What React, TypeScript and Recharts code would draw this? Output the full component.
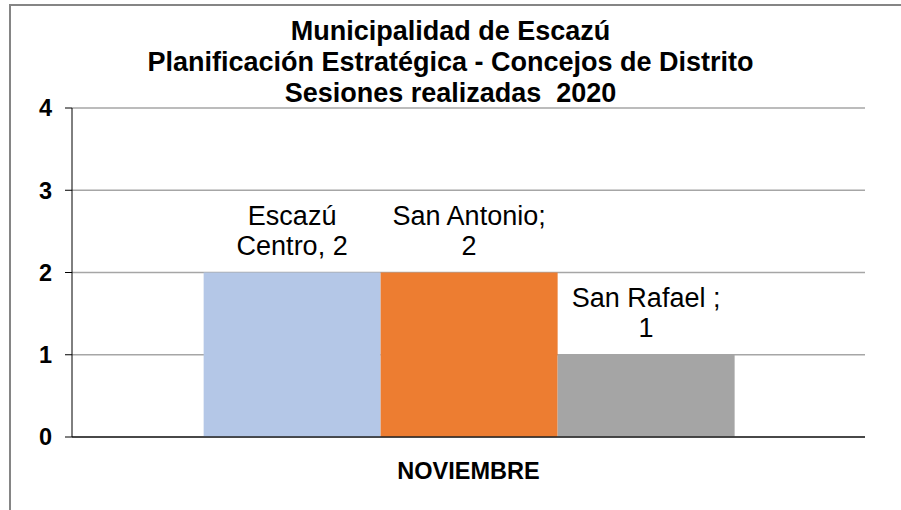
import React from "react";
import { BarChart, Bar, XAxis, YAxis, CartesianGrid, LabelList } from "recharts";

const categories = ["NOVIEMBRE"];
const escazuCentro = [2];
const sanAntonio = [2];
const sanRafael = [1];
const yTicks = [0, 1, 2, 3, 4];
const titleLines = [
  "Municipalidad de Escazú",
  "Planificación Estratégica - Concejos de Distrito",
  "Sesiones realizadas  2020",
];
const seriesInfo = [
  { key: "escazu", values: escazuCentro, color: "#B4C7E7" },
  { key: "antonio", values: sanAntonio, color: "#ED7D31" },
  { key: "rafael", values: sanRafael, color: "#A5A5A5" },
];
const labelLines: Record<string, (v: number) => string[]> = {
  escazu: (v) => ["Escazú", `Centro, ${v}`],
  antonio: (v) => ["San Antonio;", `${v}`],
  rafael: (v) => ["San Rafael ;", `${v}`],
};

const data = categories.map((c, i) => ({
  name: c,
  escazu: escazuCentro[i],
  antonio: sanAntonio[i],
  rafael: sanRafael[i],
}));

const FONT = "'Liberation Sans', Arial, sans-serif";

const makeLabel = (key: string) => (props: any) => {
  const { x, y, width, value } = props;
  const lines = labelLines[key](value);
  const cx = x + width / 2;
  return (
    <text x={cx} y={y - 18} textAnchor="middle" fontFamily={FONT} fontSize={27} fill="#000">
      <tspan x={cx} dy={-30}>{lines[0]}</tspan>
      <tspan x={cx} dy={30}>{lines[1]}</tspan>
    </text>
  );
};

export default function App() {
  return (
    <div style={{ position: "absolute", left: 0, top: 0, width: 901, height: 510, background: "#fff", overflow: "hidden" }}>
      <div style={{ position: "absolute", left: 9, top: 4, width: 1000, height: 1000, borderLeft: "2px solid #858585", borderTop: "2px solid #858585" }} />
      <div style={{ position: "absolute", left: 0, top: 0 }}>
        <BarChart
          width={901}
          height={510}
          data={data}
          margin={{ top: 108, right: 36, bottom: 33, left: 12 }}
          barGap={0}
          barCategoryGap="16.6%"
        >
          <CartesianGrid vertical={false} stroke="#A6A6A6" strokeWidth={1.5} />
          <XAxis xAxisId="edge" type="number" domain={[0, 1]} ticks={[0, 1]} tick={false} height={0} axisLine={false} tickLine={{ stroke: "#000" }} tickSize={7} allowDataOverflow />
          <XAxis
            dataKey="name"
            height={40}
            axisLine={{ stroke: "#222", strokeWidth: 1.5 }}
            tickLine={false}
            tick={{ fontFamily: FONT, fontSize: 23.5, fontWeight: "bold", fill: "#000" }}
            tickMargin={19}
          />
          <YAxis
            width={60}
            domain={[0, 4]}
            ticks={yTicks}
            axisLine={{ stroke: "#000" }}
            tickLine={{ stroke: "#000" }}
            tickSize={7}
            tickMargin={13}
            tick={{ fontFamily: FONT, fontSize: 23.5, fontWeight: "bold", fill: "#000" }}
          />
          {seriesInfo.map((s) => (
            <Bar key={s.key} dataKey={s.key} fill={s.color} isAnimationActive={false}>
              <LabelList dataKey={s.key} content={makeLabel(s.key)} />
            </Bar>
          ))}
        </BarChart>
      </div>
      <div style={{ position: "absolute", left: 0, top: 16, width: 901, textAlign: "center", fontFamily: FONT, fontWeight: "bold", fontSize: 27, lineHeight: "31px", color: "#000" }}>
        {titleLines.map((t, i) => (
          <div key={i} style={{ whiteSpace: "pre" }}>{t}</div>
        ))}
      </div>
    </div>
  );
}
